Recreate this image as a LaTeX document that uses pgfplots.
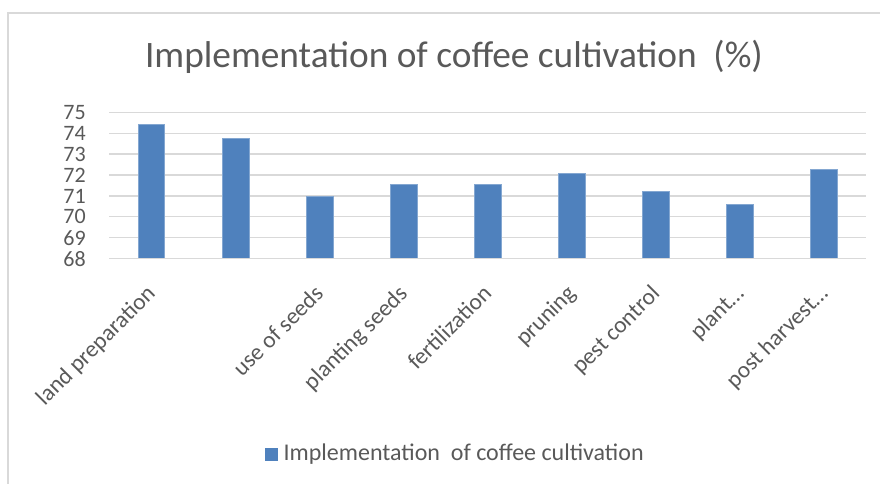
\documentclass[border=0pt]{standalone}
\usepackage{pgfplots}
\pgfplotsset{compat=1.18}
\usepackage{fontspec}
\setmainfont{Carlito}
\definecolor{barblue}{HTML}{4F81BD}
\definecolor{txt}{HTML}{595959}
\definecolor{gridc}{HTML}{D9D9D9}
\begin{document}
\begin{tikzpicture}
\path[use as bounding box] (0pt,0pt) rectangle (660pt,363pt);
\draw[gridc, line width=0.9pt] (6pt,0pt) -- (6pt,353.25pt) -- (660pt,353.25pt);
\node[txt, font=\fontsize{28}{32}\selectfont] at (340.5pt,320.5pt) {Implementation of coffee cultivation\ \ (\%)};
\begin{axis}[
  at={(82pt,169pt)}, anchor=south west,
  scale only axis, width=567.5pt, height=109.8pt,
  xmin=-0.5, xmax=8.5, ymin=68, ymax=75,
  ytick={68,69,...,75},
  xtick={0,...,8},
  xticklabels={land preparation,,use of seeds,planting seeds,fertilization,pruning,pest control,plant…,post harvest…},
  axis line style={draw=none},
  axis x line*=bottom,
  axis y line*=left,
  major tick length=0pt,
  ymajorgrids, grid style={gridc, line width=0.9pt},
  yticklabel style={txt, font=\fontsize{16.5}{17}\selectfont, anchor=east, inner sep=0pt, xshift=-17.5pt},
  xticklabel style={txt, font=\fontsize{17.5}{19}\selectfont, rotate=45, anchor=north east, inner sep=1pt, yshift=-8.6pt, xshift=-15.4pt},
  /pgf/number format/assume math mode=true,
  clip=false,
]
\addplot[ybar, bar width=20pt, fill=barblue, draw=barblue!70!white, line width=0.4pt] coordinates {
(0,74.43) (1,73.74) (2,70.98) (3,71.54) (4,71.54) (5,72.08) (6,71.23) (7,70.61) (8,72.27)};
\draw[gridc, line width=0.9pt] (axis cs:-0.5,68) -- (axis cs:8.5,68);
\end{axis}
\fill[barblue] (198.75pt,17.6pt) rectangle (208.5pt,27.35pt);
\node[txt, anchor=west, inner sep=0pt, font=\fontsize{18}{20}\selectfont] at (212.5pt,22.5pt) {Implementation\ \ of coffee cultivation};
\end{tikzpicture}
\end{document}
